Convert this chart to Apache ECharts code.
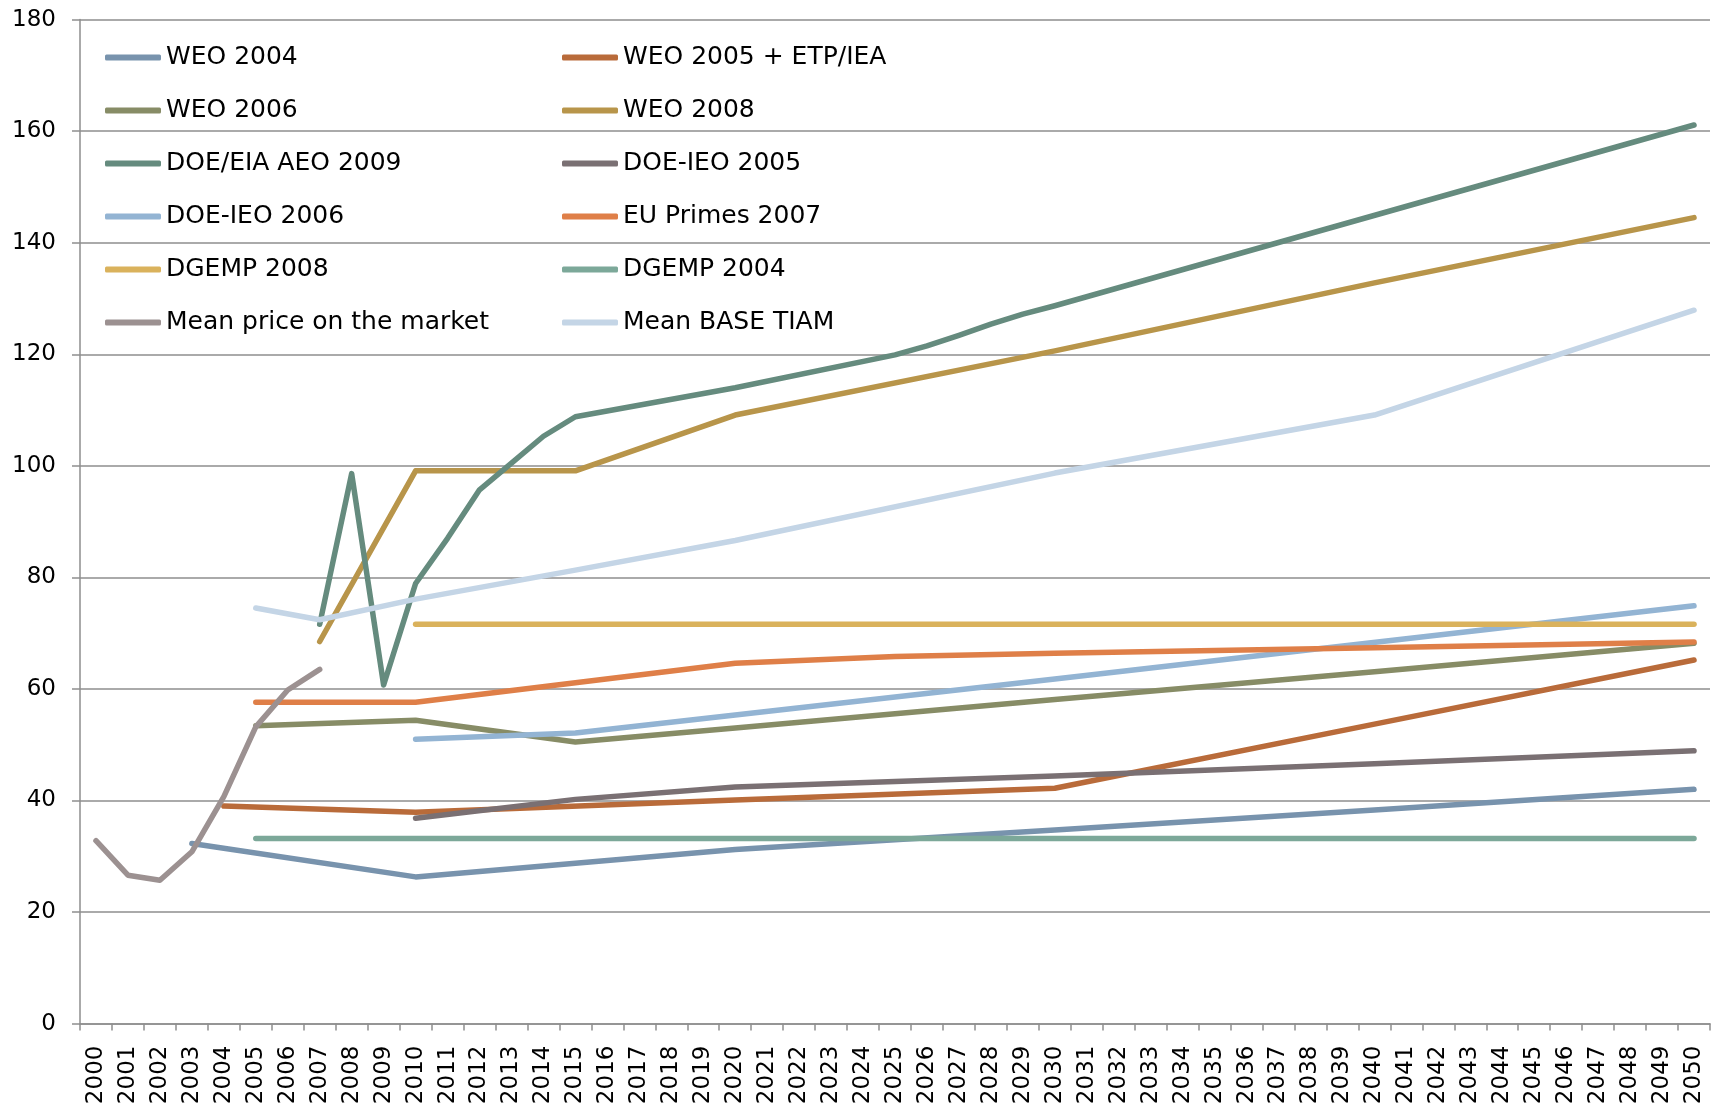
<!DOCTYPE html>
<html>
<head>
<meta charset="utf-8">
<script src="https://cdn.jsdelivr.net/npm/echarts@6/dist/echarts.min.js"></script>
<style>
  html, body { margin: 0; padding: 0; background: #fff; }
  #chart { width: 1711px; height: 1109px; }
</style>
</head>
<body>
<div id="chart"></div>
<script>
// years on the category axis
const years = ['2000', '2001', '2002', '2003', '2004', '2005', '2006', '2007', '2008', '2009',
    '2010', '2011', '2012', '2013', '2014', '2015', '2016', '2017', '2018', '2019',
    '2020', '2021', '2022', '2023', '2024', '2025', '2026', '2027', '2028', '2029',
    '2030', '2031', '2032', '2033', '2034', '2035', '2036', '2037', '2038', '2039',
    '2040', '2041', '2042', '2043', '2044', '2045', '2046', '2047', '2048', '2049', '2050'];

const yTicks = [0, 20, 40, 60, 80, 100, 120, 140, 160, 180];

// series values: [year, value]
const weo2004 = [['2003', 32.3], ['2010', 26.3], ['2020', 31.2], ['2030', 34.7], ['2040', 38.3], ['2050', 42.0]];
const weo2005 = [['2004', 39.0], ['2010', 37.9], ['2020', 40.1], ['2030', 42.2], ['2040', 53.7], ['2050', 65.2]];
const weo2006 = [['2005', 53.4], ['2010', 54.4], ['2015', 50.5], ['2020', 53.0], ['2030', 58.1], ['2040', 63.1], ['2050', 68.2]];
const weo2008 = [['2007', 68.5], ['2010', 99.1], ['2015', 99.1], ['2020', 109.1], ['2030', 120.6], ['2040', 132.8], ['2050', 144.5]];
const aeo2009 = [['2007', 71.6], ['2008', 98.6], ['2009', 60.7], ['2010', 78.9], ['2011', 87.0], ['2012', 95.7],
    ['2013', 100.5], ['2014', 105.3], ['2015', 108.8], ['2020', 114.0], ['2025', 119.9], ['2026', 121.5],
    ['2027', 123.4], ['2028', 125.4], ['2029', 127.2], ['2030', 128.7], ['2050', 161.1]];
const doeIeo2005 = [['2010', 36.8], ['2015', 40.2], ['2020', 42.4], ['2030', 44.4], ['2040', 46.6], ['2050', 48.9]];
const doeIeo2006 = [['2010', 51.0], ['2015', 52.1], ['2030', 61.8], ['2050', 74.9]];
const euPrimes2007 = [['2005', 57.6], ['2010', 57.6], ['2020', 64.6], ['2025', 65.8], ['2030', 66.4], ['2040', 67.4], ['2050', 68.4]];
const dgemp2008 = [['2010', 71.6], ['2030', 71.6], ['2050', 71.6]];
const dgemp2004 = [['2005', 33.2], ['2030', 33.2], ['2050', 33.2]];
const meanMarket = [['2000', 32.8], ['2001', 26.6], ['2002', 25.7], ['2003', 30.8], ['2004', 40.7], ['2005', 53.2], ['2006', 59.8], ['2007', 63.5]];
const meanTiam = [['2005', 74.5], ['2007', 72.4], ['2010', 76.1], ['2015', 81.3], ['2020', 86.6], ['2030', 98.7], ['2040', 109.1], ['2050', 127.9]];

const seriesNames = ['WEO 2004', 'WEO 2005 + ETP/IEA', 'WEO 2006', 'WEO 2008', 'DOE/EIA AEO 2009', 'DOE-IEO 2005',
    'DOE-IEO 2006', 'EU Primes 2007', 'DGEMP 2008', 'DGEMP 2004', 'Mean price on the market', 'Mean BASE TIAM'];
const seriesData = [weo2004, weo2005, weo2006, weo2008, aeo2009, doeIeo2005,
    doeIeo2006, euPrimes2007, dgemp2008, dgemp2004, meanMarket, meanTiam];

const colors = ['#7893AD', '#B96B3A', '#878C66', '#B8954A', '#658B7E', '#7A7073',
    '#93B4D3', '#DF7F48', '#DAB25C', '#7CA899', '#9C9191', '#C4D5E6'];

const gridColor = '#8e8e8e';
const font = 'DejaVu Sans';

const chart = echarts.init(document.getElementById('chart'));

function legendBlock(names, left) {
    return {
        orient: 'vertical',
        left: left,
        top: 45,
        padding: 0,
        itemGap: 28,
        itemWidth: 56,
        itemHeight: 6,
        icon: 'roundRect',
        selectedMode: false,
        textStyle: { fontFamily: font, fontSize: 25, color: '#000', lineHeight: 25 },
        data: names
    };
}

const option = {
    animation: false,
    backgroundColor: '#fff',
    color: colors,
    grid: { left: 80, right: 1, top: 19.6, bottom: 85.4 },
    legend: [
        legendBlock(seriesNames.filter((n, i) => i % 2 === 0), 105),
        legendBlock(seriesNames.filter((n, i) => i % 2 === 1), 562)
    ],
    xAxis: {
        type: 'category',
        data: years,
        boundaryGap: true,
        axisLine: { lineStyle: { color: gridColor, width: 1.5 } },
        axisTick: { show: true, interval: 0, length: 7, lineStyle: { color: gridColor, width: 1.5 } },
        axisLabel: { interval: 0, rotate: 90, margin: 22, fontFamily: font, fontSize: 23, color: '#000' }
    },
    yAxis: {
        type: 'value',
        min: yTicks[0],
        max: yTicks[yTicks.length - 1],
        interval: yTicks[1] - yTicks[0],
        axisLine: { show: true, lineStyle: { color: gridColor, width: 1.5 } },
        axisTick: { show: true, length: 8, lineStyle: { color: gridColor, width: 1.5 } },
        splitLine: { lineStyle: { color: gridColor, width: 1.5 } },
        axisLabel: { margin: 24, fontFamily: font, fontSize: 23, color: '#000' }
    },
    series: seriesNames.map((name, i) => ({
        name: name,
        type: 'line',
        data: seriesData[i],
        showSymbol: false,
        symbol: 'none',
        silent: true,
        lineStyle: { width: 5.5, color: colors[i], cap: 'round', join: 'round' },
        itemStyle: { color: colors[i] },
        emphasis: { disabled: true }
    }))
};

chart.setOption(option);
</script>
</body>
</html>
